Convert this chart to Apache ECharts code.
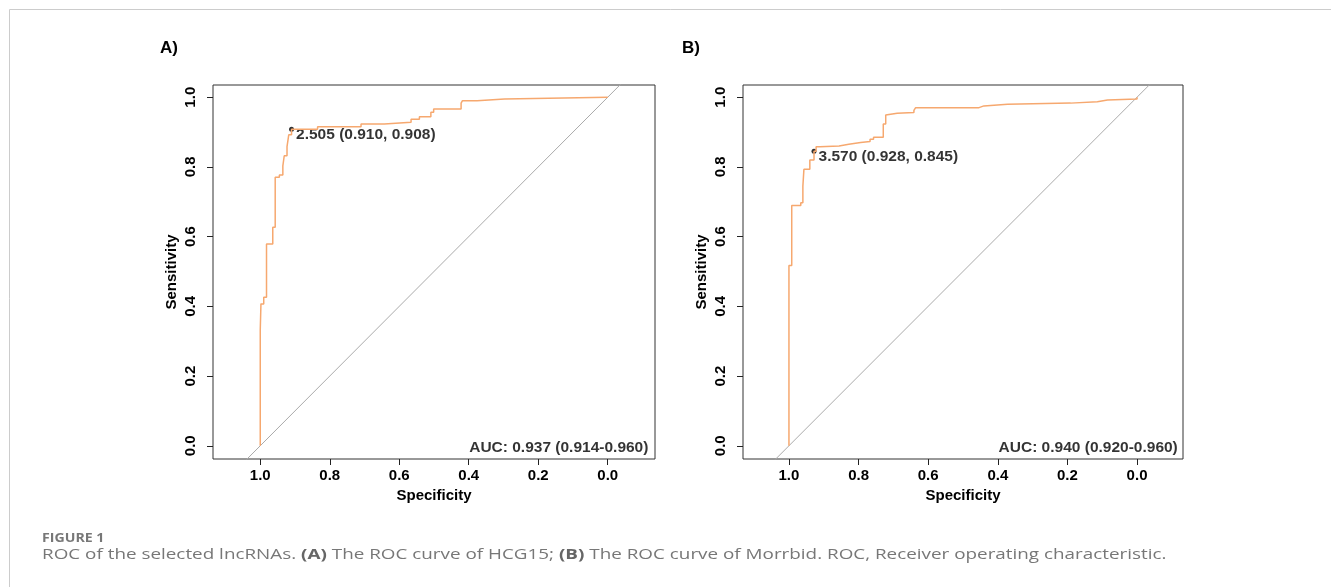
<!DOCTYPE html>
<html><head><meta charset="utf-8">
<script src="https://cdn.jsdelivr.net/npm/echarts@6/dist/echarts.min.js"></script>
<style>html,body{margin:0;padding:0;background:#fff}#c{width:1331px;height:587px}</style>
</head><body><div id="c"></div>
<script>
// ROC step vertices: at each specificity the curve rises to the given sensitivity, then moves on
const specA = [1.000, 0.998, 0.990, 0.982, 0.964, 0.957, 0.945, 0.935, 0.931, 0.923, 0.918, 0.910, 0.835, 0.710, 0.643, 0.566, 0.542, 0.509, 0.501, 0.422, 0.418, 0.376, 0.297, 0.000];
const sensA = [0.332, 0.407, 0.426, 0.579, 0.627, 0.770, 0.777, 0.803, 0.832, 0.858, 0.892, 0.908, 0.915, 0.923, 0.928, 0.937, 0.944, 0.957, 0.966, 0.983, 0.990, 0.995, 1.000, 1.000];
const specB = [1.000, 0.992, 0.966, 0.960, 0.957, 0.940, 0.928, 0.922, 0.911, 0.856, 0.828, 0.794, 0.767, 0.757, 0.729, 0.722, 0.717, 0.689, 0.641, 0.636, 0.454, 0.440, 0.372, 0.191, 0.114, 0.085, 0.000];
const sensB = [0.517, 0.689, 0.697, 0.745, 0.793, 0.820, 0.845, 0.858, 0.860, 0.865, 0.870, 0.873, 0.879, 0.885, 0.923, 0.949, 0.954, 0.956, 0.962, 0.970, 0.975, 0.980, 0.983, 0.987, 0.992, 0.995, 1.000];
const cutA = {threshold: '2.505', spec: 0.910, sens: 0.908};
const cutB = {threshold: '3.570', spec: 0.928, sens: 0.845};
const aucA = 'AUC: 0.937 (0.914-0.960)';
const aucB = 'AUC: 0.940 (0.920-0.960)';
const tickValues = [0, 0.2, 0.4, 0.6, 0.8, 1.0];
const panelLabels = ['A)', 'B)'];
const xTitle = 'Specificity';
const yTitle = 'Sensitivity';
const captionHead = 'FIGURE 1';

function stepPath(spec, sens) {
  const pts = [[1, 0]];
  let prev = 0;
  for (let i = 0; i < spec.length; i++) {
    pts.push([spec[i], prev]);
    pts.push([spec[i], sens[i]]);
    prev = sens[i];
  }
  return pts;
}

const F = '"Liberation Sans", Arial, sans-serif';
const ORANGE = '#F6A86F';
const INK = '#000';

function xAx(idx, pad) {
  return {
    type: 'value', gridIndex: idx, inverse: true, min: -pad, max: 1 + pad,
    splitLine: {show: false}, axisLine: {show: false, onZero: false},
    axisTick: {show: true, length: 6, customValues: tickValues, lineStyle: {color: '#222'}},
    axisLabel: {customValues: tickValues, margin: 9, fontFamily: F, fontWeight: 'bold', fontSize: 15, color: INK,
      formatter: v => v.toFixed(1)},
    name: xTitle, nameLocation: 'middle', nameGap: 29,
    nameTextStyle: {fontFamily: F, fontWeight: 'bold', fontSize: 15, color: INK}
  };
}
function yAx(idx) {
  return {
    type: 'value', gridIndex: idx, min: -0.038, max: 1.035,
    splitLine: {show: false}, axisLine: {show: false, onZero: false},
    axisTick: {show: true, length: 6, customValues: tickValues, lineStyle: {color: '#222'}},
    axisLabel: {customValues: tickValues, rotate: 90, margin: 15, fontFamily: F, fontWeight: 'bold', fontSize: 15, color: INK,
      formatter: v => v.toFixed(1)},
    name: yTitle, nameLocation: 'middle', nameGap: 34,
    nameTextStyle: {fontFamily: F, fontWeight: 'bold', fontSize: 15, color: INK}
  };
}
function series(idx, spec, sens, cut, auc) {
  return [
    {type: 'line', xAxisIndex: idx, yAxisIndex: idx, data: [[1.3, -0.3], [-0.3, 1.3]], symbol: 'none',
      lineStyle: {color: '#aaaaaa', width: 1}, clip: true, silent: true},
    {type: 'line', xAxisIndex: idx, yAxisIndex: idx, data: stepPath(spec, sens), symbol: 'none',
      lineStyle: {color: ORANGE, width: 1.5}},
    {type: 'scatter', xAxisIndex: idx, yAxisIndex: idx, data: [[cut.spec, cut.sens]], symbolSize: 5,
      itemStyle: {color: '#000'},
      label: {show: true, position: 'right', distance: 2, offset: [0, 5],
        formatter: cut.threshold + ' (' + cut.spec.toFixed(3) + ', ' + cut.sens.toFixed(3) + ')',
        fontFamily: F, fontWeight: 'bold', fontSize: 15.5, color: INK}},
    {type: 'scatter', xAxisIndex: idx, yAxisIndex: idx, data: [[-0.117, -0.007]], symbolSize: 0,
      label: {show: true, position: [0, 0], align: 'right', verticalAlign: 'middle', formatter: auc,
        fontFamily: F, fontWeight: 'bold', fontSize: 15.5, color: INK}}
  ];
}

const chart = echarts.init(document.getElementById('c'), null, {renderer: 'canvas'});
chart.setOption({
  animation: false,
  backgroundColor: '#fff',
  grid: [
    {left: 213, top: 85, width: 442, height: 374, show: true, borderColor: '#333', borderWidth: 1, backgroundColor: 'transparent'},
    {left: 743, top: 85, width: 440, height: 374, show: true, borderColor: '#333', borderWidth: 1, backgroundColor: 'transparent'}
  ],
  xAxis: [xAx(0, 0.136), xAx(1, 0.132)],
  yAxis: [yAx(0), yAx(1)],
  series: [].concat(series(0, specA, sensA, cutA, aucA), series(1, specB, sensB, cutB, aucB)),
  graphic: [
    {type: 'line', shape: {x1: 9.5, y1: 9.5, x2: 1331, y2: 9.5}, style: {stroke: '#cccccc', lineWidth: 1}},
    {type: 'line', shape: {x1: 9.5, y1: 9.5, x2: 9.5, y2: 587}, style: {stroke: '#cccccc', lineWidth: 1}},
    {type: 'text', left: 160, top: 40, style: {text: panelLabels[0], font: 'bold 17px ' + F, fill: INK}},
    {type: 'text', left: 682, top: 40, style: {text: panelLabels[1], font: 'bold 17px ' + F, fill: INK}},
    {type: 'text', x: 42, y: 539, scaleX: 1.18, style: {text: captionHead, font: 'bold 12px "Open Sans", sans-serif', fill: '#777', verticalAlign: 'middle'}},
    {type: 'text', x: 42, y: 555, scaleX: 1.257, style: {
      text: 'ROC of the selected lncRNAs. {b|(A)} The ROC curve of HCG15; {b|(B)} The ROC curve of Morrbid. ROC, Receiver operating characteristic.',
      font: '15px "Open Sans", sans-serif', fill: '#777', verticalAlign: 'middle',
      rich: {b: {fontWeight: 'bold', fontFamily: '"Open Sans", sans-serif', fontSize: 15, fill: '#666'}}
    }}
  ]
});
</script></body></html>
